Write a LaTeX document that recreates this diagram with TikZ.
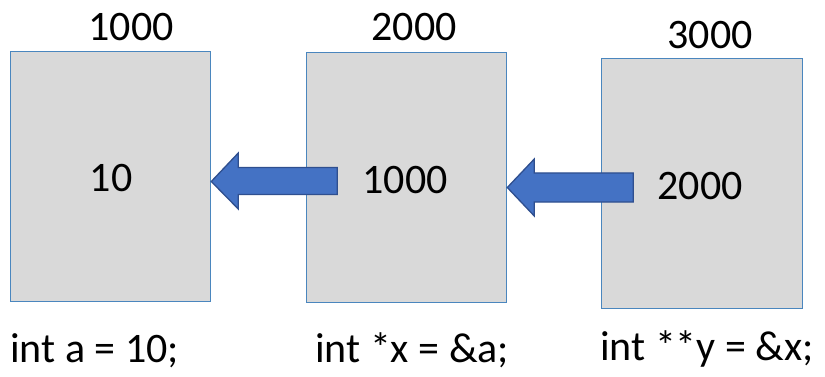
\documentclass[tikz,border=0pt]{standalone}
\usepackage{fontspec}
\setmainfont{Carlito}
\definecolor{boxfill}{HTML}{D9D9D9}
\definecolor{boxline}{HTML}{4A86BE}
\definecolor{arrfill}{HTML}{4472C4}
\definecolor{arrline}{HTML}{2F4F8F}
\begin{document}
\begin{tikzpicture}[x=1pt,y=-1pt,
  cell/.style={draw=boxline,fill=boxfill,line width=1.3pt,minimum width=200pt,minimum height=250pt,inner sep=0pt,anchor=north west},
  lbl/.style={font=\fontsize{42}{50}\selectfont,inner sep=0pt},
  blockarrow/.style={draw=arrline,fill=arrfill,line width=1.3pt,line join=miter}]
\useasboundingbox (0,0) rectangle (825,377);
% boxes
\node[cell] (b1) at (10,51) {};
\node[cell,minimum width=200pt] (b2) at (306,52) {};
\node[cell,minimum width=201pt] (b3) at (601,58) {};
% values
\node[lbl] (v1) at (111,178) {10};
\node[lbl] (v2) at (405,180) {1000};
\node[lbl] (v3) at (700,186) {2000};
% addresses
\node[lbl] (a1) at (131,27) {1000};
\node[lbl] (a2) at (414,27) {2000};
\node[lbl] (a3) at (710,35) {3000};
% declarations
\node[lbl,anchor=base west] (d1) at (10,362) {int a = 10;};
\node[lbl,anchor=base west] (d2) at (315,362) {int *x = \&a;};
\node[lbl,anchor=base west] (d3) at (600,360) {int **y = \&x;};
% arrows
\coordinate (t1) at (b1.east |- 0,181.5);
\coordinate (t2) at (b2.east |- 0,187.5);
\draw[blockarrow] (t1) -- ++(27,-28.5) -- ++(0,14.5) -- ++(99,0) -- ++(0,27) -- ++(-99,0) -- ++(0,14.5) -- cycle;
\draw[blockarrow] (t2) -- ++(27,-28.5) -- ++(0,14) -- ++(99,0) -- ++(0,29) -- ++(-99,0) -- ++(0,14) -- cycle;
\end{tikzpicture}
\end{document}
